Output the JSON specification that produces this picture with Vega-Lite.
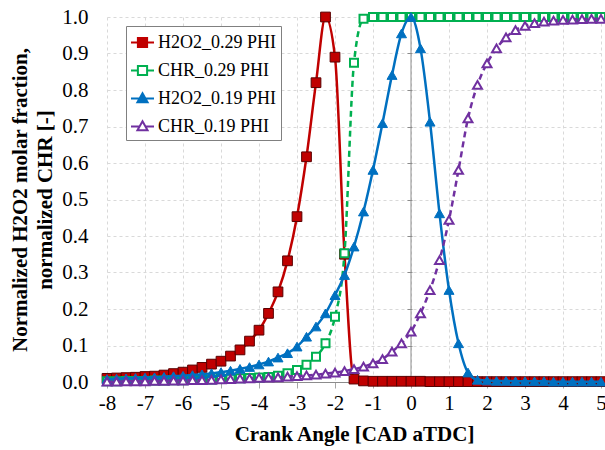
{
 "$schema": "https://vega.github.io/schema/vega-lite/v6.json",
 "width": 494, "height": 365,
 "autosize": "none",
 "padding": {"left": 107, "top": 17, "right": 4, "bottom": 68},
 "background": "white",
 "config": {
  "view": {"stroke": null},
  "font": "Liberation Serif",
  "axis": {"labelFont": "Liberation Serif", "labelFontSize": 21, "labelColor": "black", "labelOverlap": false, "labelFlush": false, "labelSeparation": 0,
           "titleFont": "Liberation Serif", "titleFontSize": 21, "titleFontWeight": "bold", "titleColor": "black",
           "gridColor": "#d9d9d9", "gridDash": [3, 3], "gridWidth": 1}
 },
 "layer": [
  {
   "data": {"values": [{}]},
   "mark": {"type": "rule", "color": "#8c8c8c", "strokeWidth": 1},
   "encoding": {
    "x": {"datum": 0, "type": "quantitative", "scale": {"domain": [-8, 5], "nice": false, "zero": false},
          "axis": {"values": [-8,-7,-6,-5,-4,-3,-2,-1,0,1,2,3,4,5], "labelExpr": "'' + datum.value", "labelPadding": 4, "tickSize": 6, "tickColor": "#a6a6a6", "domainColor": "#8c8c8c", "grid": true, "title": "Crank Angle [CAD aTDC]", "titlePadding": 10}},
    "y": {"datum": 0, "type": "quantitative", "scale": {"domain": [0, 1], "nice": false},
          "axis": {"orient": "left", "offset": -305, "labels": false, "domain": false, "grid": false, "ticks": true, "tickSize": 5, "tickColor": "#8c8c8c", "values": [0,0.1,0.2,0.3,0.4,0.5,0.6,0.7,0.8,0.9,1], "title": null}},
    "y2": {"datum": 1}
   }
  },
  {
   "data": {"values": [
{"x":-8,"y":0.010,"s":"H2O2_0.29 PHI"},{"x":-7.75,"y":0.011,"s":"H2O2_0.29 PHI"},{"x":-7.5,"y":0.012,"s":"H2O2_0.29 PHI"},{"x":-7.25,"y":0.013,"s":"H2O2_0.29 PHI"},{"x":-7,"y":0.015,"s":"H2O2_0.29 PHI"},{"x":-6.75,"y":0.016,"s":"H2O2_0.29 PHI"},{"x":-6.5,"y":0.019,"s":"H2O2_0.29 PHI"},{"x":-6.25,"y":0.023,"s":"H2O2_0.29 PHI"},{"x":-6,"y":0.027,"s":"H2O2_0.29 PHI"},{"x":-5.75,"y":0.033,"s":"H2O2_0.29 PHI"},{"x":-5.5,"y":0.040,"s":"H2O2_0.29 PHI"},{"x":-5.25,"y":0.049,"s":"H2O2_0.29 PHI"},{"x":-5,"y":0.057,"s":"H2O2_0.29 PHI"},{"x":-4.75,"y":0.071,"s":"H2O2_0.29 PHI"},{"x":-4.5,"y":0.088,"s":"H2O2_0.29 PHI"},{"x":-4.25,"y":0.112,"s":"H2O2_0.29 PHI"},{"x":-4,"y":0.142,"s":"H2O2_0.29 PHI"},{"x":-3.75,"y":0.188,"s":"H2O2_0.29 PHI"},{"x":-3.5,"y":0.247,"s":"H2O2_0.29 PHI"},{"x":-3.25,"y":0.332,"s":"H2O2_0.29 PHI"},{"x":-3,"y":0.453,"s":"H2O2_0.29 PHI"},{"x":-2.75,"y":0.617,"s":"H2O2_0.29 PHI"},{"x":-2.5,"y":0.82,"s":"H2O2_0.29 PHI"},{"x":-2.25,"y":1.0,"s":"H2O2_0.29 PHI"},{"x":-2,"y":0.89,"s":"H2O2_0.29 PHI"},{"x":-1.75,"y":0.35,"s":"H2O2_0.29 PHI"},{"x":-1.5,"y":0.008,"s":"H2O2_0.29 PHI"},{"x":-1.25,"y":0.003,"s":"H2O2_0.29 PHI"},{"x":-1,"y":0.002,"s":"H2O2_0.29 PHI"},{"x":-0.75,"y":0.002,"s":"H2O2_0.29 PHI"},{"x":-0.5,"y":0.002,"s":"H2O2_0.29 PHI"},{"x":-0.25,"y":0.002,"s":"H2O2_0.29 PHI"},{"x":0,"y":0.002,"s":"H2O2_0.29 PHI"},{"x":0.25,"y":0.002,"s":"H2O2_0.29 PHI"},{"x":0.5,"y":0.001,"s":"H2O2_0.29 PHI"},{"x":0.75,"y":0.001,"s":"H2O2_0.29 PHI"},{"x":1,"y":0.001,"s":"H2O2_0.29 PHI"},{"x":1.25,"y":0.001,"s":"H2O2_0.29 PHI"},{"x":1.5,"y":0.001,"s":"H2O2_0.29 PHI"},{"x":1.75,"y":0.001,"s":"H2O2_0.29 PHI"},{"x":2,"y":0.001,"s":"H2O2_0.29 PHI"},{"x":2.25,"y":0.001,"s":"H2O2_0.29 PHI"},{"x":2.5,"y":0.001,"s":"H2O2_0.29 PHI"},{"x":2.75,"y":0.001,"s":"H2O2_0.29 PHI"},{"x":3,"y":0.001,"s":"H2O2_0.29 PHI"},{"x":3.25,"y":0.001,"s":"H2O2_0.29 PHI"},{"x":3.5,"y":0.001,"s":"H2O2_0.29 PHI"},{"x":3.75,"y":0.001,"s":"H2O2_0.29 PHI"},{"x":4,"y":0.001,"s":"H2O2_0.29 PHI"},{"x":4.25,"y":0.001,"s":"H2O2_0.29 PHI"},{"x":4.5,"y":0.001,"s":"H2O2_0.29 PHI"},{"x":4.75,"y":0.001,"s":"H2O2_0.29 PHI"},{"x":5,"y":0.001,"s":"H2O2_0.29 PHI"},
{"x":-8,"y":0.002,"s":"CHR_0.29 PHI"},{"x":-7.75,"y":0.002,"s":"CHR_0.29 PHI"},{"x":-7.5,"y":0.003,"s":"CHR_0.29 PHI"},{"x":-7.25,"y":0.003,"s":"CHR_0.29 PHI"},{"x":-7,"y":0.003,"s":"CHR_0.29 PHI"},{"x":-6.75,"y":0.004,"s":"CHR_0.29 PHI"},{"x":-6.5,"y":0.004,"s":"CHR_0.29 PHI"},{"x":-6.25,"y":0.005,"s":"CHR_0.29 PHI"},{"x":-6,"y":0.005,"s":"CHR_0.29 PHI"},{"x":-5.75,"y":0.006,"s":"CHR_0.29 PHI"},{"x":-5.5,"y":0.006,"s":"CHR_0.29 PHI"},{"x":-5.25,"y":0.007,"s":"CHR_0.29 PHI"},{"x":-5,"y":0.008,"s":"CHR_0.29 PHI"},{"x":-4.75,"y":0.009,"s":"CHR_0.29 PHI"},{"x":-4.5,"y":0.010,"s":"CHR_0.29 PHI"},{"x":-4.25,"y":0.011,"s":"CHR_0.29 PHI"},{"x":-4,"y":0.012,"s":"CHR_0.29 PHI"},{"x":-3.75,"y":0.014,"s":"CHR_0.29 PHI"},{"x":-3.5,"y":0.017,"s":"CHR_0.29 PHI"},{"x":-3.25,"y":0.024,"s":"CHR_0.29 PHI"},{"x":-3,"y":0.033,"s":"CHR_0.29 PHI"},{"x":-2.75,"y":0.047,"s":"CHR_0.29 PHI"},{"x":-2.5,"y":0.069,"s":"CHR_0.29 PHI"},{"x":-2.25,"y":0.106,"s":"CHR_0.29 PHI"},{"x":-2,"y":0.179,"s":"CHR_0.29 PHI"},{"x":-1.75,"y":0.353,"s":"CHR_0.29 PHI"},{"x":-1.5,"y":0.875,"s":"CHR_0.29 PHI"},{"x":-1.25,"y":0.995,"s":"CHR_0.29 PHI"},{"x":-1,"y":1.0,"s":"CHR_0.29 PHI"},{"x":-0.75,"y":1.0,"s":"CHR_0.29 PHI"},{"x":-0.5,"y":1.0,"s":"CHR_0.29 PHI"},{"x":-0.25,"y":1.0,"s":"CHR_0.29 PHI"},{"x":0,"y":1.0,"s":"CHR_0.29 PHI"},{"x":0.25,"y":1.0,"s":"CHR_0.29 PHI"},{"x":0.5,"y":1.0,"s":"CHR_0.29 PHI"},{"x":0.75,"y":1.0,"s":"CHR_0.29 PHI"},{"x":1,"y":1.0,"s":"CHR_0.29 PHI"},{"x":1.25,"y":1.0,"s":"CHR_0.29 PHI"},{"x":1.5,"y":1.0,"s":"CHR_0.29 PHI"},{"x":1.75,"y":1.0,"s":"CHR_0.29 PHI"},{"x":2,"y":1.0,"s":"CHR_0.29 PHI"},{"x":2.25,"y":1.0,"s":"CHR_0.29 PHI"},{"x":2.5,"y":1.0,"s":"CHR_0.29 PHI"},{"x":2.75,"y":1.0,"s":"CHR_0.29 PHI"},{"x":3,"y":1.0,"s":"CHR_0.29 PHI"},{"x":3.25,"y":1.0,"s":"CHR_0.29 PHI"},{"x":3.5,"y":1.0,"s":"CHR_0.29 PHI"},{"x":3.75,"y":1.0,"s":"CHR_0.29 PHI"},{"x":4,"y":1.0,"s":"CHR_0.29 PHI"},{"x":4.25,"y":1.0,"s":"CHR_0.29 PHI"},{"x":4.5,"y":1.0,"s":"CHR_0.29 PHI"},{"x":4.75,"y":1.0,"s":"CHR_0.29 PHI"},{"x":5,"y":1.0,"s":"CHR_0.29 PHI"},
{"x":-8,"y":0.008,"s":"H2O2_0.19 PHI"},{"x":-7.75,"y":0.009,"s":"H2O2_0.19 PHI"},{"x":-7.5,"y":0.010,"s":"H2O2_0.19 PHI"},{"x":-7.25,"y":0.011,"s":"H2O2_0.19 PHI"},{"x":-7,"y":0.012,"s":"H2O2_0.19 PHI"},{"x":-6.75,"y":0.013,"s":"H2O2_0.19 PHI"},{"x":-6.5,"y":0.014,"s":"H2O2_0.19 PHI"},{"x":-6.25,"y":0.016,"s":"H2O2_0.19 PHI"},{"x":-6,"y":0.017,"s":"H2O2_0.19 PHI"},{"x":-5.75,"y":0.019,"s":"H2O2_0.19 PHI"},{"x":-5.5,"y":0.021,"s":"H2O2_0.19 PHI"},{"x":-5.25,"y":0.024,"s":"H2O2_0.19 PHI"},{"x":-5,"y":0.027,"s":"H2O2_0.19 PHI"},{"x":-4.75,"y":0.031,"s":"H2O2_0.19 PHI"},{"x":-4.5,"y":0.036,"s":"H2O2_0.19 PHI"},{"x":-4.25,"y":0.041,"s":"H2O2_0.19 PHI"},{"x":-4,"y":0.048,"s":"H2O2_0.19 PHI"},{"x":-3.75,"y":0.056,"s":"H2O2_0.19 PHI"},{"x":-3.5,"y":0.067,"s":"H2O2_0.19 PHI"},{"x":-3.25,"y":0.079,"s":"H2O2_0.19 PHI"},{"x":-3,"y":0.097,"s":"H2O2_0.19 PHI"},{"x":-2.75,"y":0.124,"s":"H2O2_0.19 PHI"},{"x":-2.5,"y":0.152,"s":"H2O2_0.19 PHI"},{"x":-2.25,"y":0.188,"s":"H2O2_0.19 PHI"},{"x":-2,"y":0.238,"s":"H2O2_0.19 PHI"},{"x":-1.75,"y":0.293,"s":"H2O2_0.19 PHI"},{"x":-1.5,"y":0.371,"s":"H2O2_0.19 PHI"},{"x":-1.25,"y":0.467,"s":"H2O2_0.19 PHI"},{"x":-1,"y":0.581,"s":"H2O2_0.19 PHI"},{"x":-0.75,"y":0.709,"s":"H2O2_0.19 PHI"},{"x":-0.5,"y":0.841,"s":"H2O2_0.19 PHI"},{"x":-0.25,"y":0.955,"s":"H2O2_0.19 PHI"},{"x":0,"y":1.0,"s":"H2O2_0.19 PHI"},{"x":0.25,"y":0.914,"s":"H2O2_0.19 PHI"},{"x":0.5,"y":0.713,"s":"H2O2_0.19 PHI"},{"x":0.75,"y":0.462,"s":"H2O2_0.19 PHI"},{"x":1,"y":0.252,"s":"H2O2_0.19 PHI"},{"x":1.25,"y":0.106,"s":"H2O2_0.19 PHI"},{"x":1.5,"y":0.026,"s":"H2O2_0.19 PHI"},{"x":1.75,"y":0.006,"s":"H2O2_0.19 PHI"},{"x":2,"y":0.004,"s":"H2O2_0.19 PHI"},{"x":2.25,"y":0.003,"s":"H2O2_0.19 PHI"},{"x":2.5,"y":0.003,"s":"H2O2_0.19 PHI"},{"x":2.75,"y":0.002,"s":"H2O2_0.19 PHI"},{"x":3,"y":0.002,"s":"H2O2_0.19 PHI"},{"x":3.25,"y":0.002,"s":"H2O2_0.19 PHI"},{"x":3.5,"y":0.002,"s":"H2O2_0.19 PHI"},{"x":3.75,"y":0.001,"s":"H2O2_0.19 PHI"},{"x":4,"y":0.001,"s":"H2O2_0.19 PHI"},{"x":4.25,"y":0.001,"s":"H2O2_0.19 PHI"},{"x":4.5,"y":0.001,"s":"H2O2_0.19 PHI"},{"x":4.75,"y":0.001,"s":"H2O2_0.19 PHI"},{"x":5,"y":0.001,"s":"H2O2_0.19 PHI"},
{"x":-8,"y":0.001,"s":"CHR_0.19 PHI"},{"x":-7.75,"y":0.001,"s":"CHR_0.19 PHI"},{"x":-7.5,"y":0.002,"s":"CHR_0.19 PHI"},{"x":-7.25,"y":0.002,"s":"CHR_0.19 PHI"},{"x":-7,"y":0.002,"s":"CHR_0.19 PHI"},{"x":-6.75,"y":0.003,"s":"CHR_0.19 PHI"},{"x":-6.5,"y":0.003,"s":"CHR_0.19 PHI"},{"x":-6.25,"y":0.004,"s":"CHR_0.19 PHI"},{"x":-6,"y":0.004,"s":"CHR_0.19 PHI"},{"x":-5.75,"y":0.005,"s":"CHR_0.19 PHI"},{"x":-5.5,"y":0.005,"s":"CHR_0.19 PHI"},{"x":-5.25,"y":0.006,"s":"CHR_0.19 PHI"},{"x":-5,"y":0.007,"s":"CHR_0.19 PHI"},{"x":-4.75,"y":0.008,"s":"CHR_0.19 PHI"},{"x":-4.5,"y":0.009,"s":"CHR_0.19 PHI"},{"x":-4.25,"y":0.010,"s":"CHR_0.19 PHI"},{"x":-4,"y":0.011,"s":"CHR_0.19 PHI"},{"x":-3.75,"y":0.012,"s":"CHR_0.19 PHI"},{"x":-3.5,"y":0.013,"s":"CHR_0.19 PHI"},{"x":-3.25,"y":0.015,"s":"CHR_0.19 PHI"},{"x":-3,"y":0.016,"s":"CHR_0.19 PHI"},{"x":-2.75,"y":0.018,"s":"CHR_0.19 PHI"},{"x":-2.5,"y":0.020,"s":"CHR_0.19 PHI"},{"x":-2.25,"y":0.023,"s":"CHR_0.19 PHI"},{"x":-2,"y":0.026,"s":"CHR_0.19 PHI"},{"x":-1.75,"y":0.030,"s":"CHR_0.19 PHI"},{"x":-1.5,"y":0.035,"s":"CHR_0.19 PHI"},{"x":-1.25,"y":0.042,"s":"CHR_0.19 PHI"},{"x":-1,"y":0.051,"s":"CHR_0.19 PHI"},{"x":-0.75,"y":0.063,"s":"CHR_0.19 PHI"},{"x":-0.5,"y":0.083,"s":"CHR_0.19 PHI"},{"x":-0.25,"y":0.106,"s":"CHR_0.19 PHI"},{"x":0,"y":0.138,"s":"CHR_0.19 PHI"},{"x":0.25,"y":0.188,"s":"CHR_0.19 PHI"},{"x":0.5,"y":0.252,"s":"CHR_0.19 PHI"},{"x":0.75,"y":0.334,"s":"CHR_0.19 PHI"},{"x":1,"y":0.444,"s":"CHR_0.19 PHI"},{"x":1.25,"y":0.581,"s":"CHR_0.19 PHI"},{"x":1.5,"y":0.722,"s":"CHR_0.19 PHI"},{"x":1.75,"y":0.814,"s":"CHR_0.19 PHI"},{"x":2,"y":0.873,"s":"CHR_0.19 PHI"},{"x":2.25,"y":0.914,"s":"CHR_0.19 PHI"},{"x":2.5,"y":0.944,"s":"CHR_0.19 PHI"},{"x":2.75,"y":0.964,"s":"CHR_0.19 PHI"},{"x":3,"y":0.976,"s":"CHR_0.19 PHI"},{"x":3.25,"y":0.983,"s":"CHR_0.19 PHI"},{"x":3.5,"y":0.987,"s":"CHR_0.19 PHI"},{"x":3.75,"y":0.990,"s":"CHR_0.19 PHI"},{"x":4,"y":0.992,"s":"CHR_0.19 PHI"},{"x":4.25,"y":0.993,"s":"CHR_0.19 PHI"},{"x":4.5,"y":0.994,"s":"CHR_0.19 PHI"},{"x":4.75,"y":0.995,"s":"CHR_0.19 PHI"},{"x":5,"y":0.995,"s":"CHR_0.19 PHI"}
   ]},
   "encoding": {
    "x": {"field": "x", "type": "quantitative", "scale": {"domain": [-8, 5], "nice": false, "zero": false},
          "axis": {"values": [-8,-7,-6,-5,-4,-3,-2,-1,0,1,2,3,4,5], "labelExpr": "'' + datum.value", "labelPadding": 4, "tickSize": 6, "tickColor": "#a6a6a6", "domainColor": "#8c8c8c", "grid": true, "title": "Crank Angle [CAD aTDC]", "titlePadding": 10}},
    "y": {"field": "y", "type": "quantitative", "scale": {"domain": [0, 1], "nice": false},
          "axis": {"orient": "left", "values": [0,0.1,0.2,0.3,0.4,0.5,0.6,0.7,0.8,0.9,1], "format": ".1f", "labelPadding": 19,
                   "domain": false, "ticks": false, "grid": true,
                   "title": ["Normalized H2O2 molar fraction,", "normalized CHR [-]"], "titlePadding": 6, "titleLineHeight": 25}}
   },
   "layer": [
    {
     "transform": [{"filter": {"field": "s", "equal": "H2O2_0.29 PHI"}}],
     "mark": {"type": "line", "strokeWidth": 2.5, "interpolate": "monotone"},
     "encoding": {
      "color": {"field": "s", "type": "nominal",
                "scale": {"domain": ["H2O2_0.29 PHI", "CHR_0.29 PHI", "H2O2_0.19 PHI", "CHR_0.19 PHI"], "range": ["#C00000", "#00B050", "#0070C0", "#7030A0"]},
                "legend": {"title": null, "orient": "none", "legendX": 19, "legendY": 9, "fillColor": "white", "strokeColor": "#808080", "padding": 4,
                           "labelFont": "Liberation Serif", "labelFontSize": 18, "labelColor": "black", "symbolSize": 529, "rowPadding": 6, "labelOffset": 3, "symbolStrokeWidth": 2,
                           "encode": {"symbols": {"update": {
                             "shape": {"signal": "indexof(datum.value, '0.29') >= 0 ? 'M-1,0H-0.4M0.4,0H1M-0.4,-0.4H0.4V0.4H-0.4Z' : 'M-1,0H-0.26M0.26,0H1M0,-0.46L0.44,0.32H-0.44Z'"},
                             "fill": {"signal": "indexof(datum.value, 'CHR') >= 0 ? 'white' : scale('color', datum.value)"},
                             "stroke": {"signal": "scale('color', datum.value)"},
                             "strokeDash": {"value": []},
                             "strokeWidth": {"value": 2}}}}}}
     }
    },
    {
     "transform": [{"filter": {"field": "s", "equal": "H2O2_0.29 PHI"}}],
     "mark": {"type": "point", "shape": "square", "filled": true, "fill": "#C00000", "stroke": "#5a0000", "strokeWidth": 1, "size": 95, "opacity": 1}
    },
    {
     "transform": [{"filter": {"field": "s", "equal": "CHR_0.29 PHI"}}],
     "mark": {"type": "line", "strokeWidth": 2.5, "strokeDash": [6, 4], "interpolate": "monotone"},
     "encoding": {"color": {"field": "s", "type": "nominal"}}
    },
    {
     "transform": [{"filter": {"field": "s", "equal": "CHR_0.29 PHI"}}],
     "mark": {"type": "point", "shape": "square", "filled": true, "fill": "white", "stroke": "#00B050", "strokeWidth": 2, "size": 64, "opacity": 1}
    },
    {
     "transform": [{"filter": {"field": "s", "equal": "H2O2_0.19 PHI"}}],
     "mark": {"type": "line", "strokeWidth": 2.5, "interpolate": "monotone"},
     "encoding": {"color": {"field": "s", "type": "nominal"}}
    },
    {
     "transform": [{"filter": {"field": "s", "equal": "H2O2_0.19 PHI"}}],
     "mark": {"type": "point", "shape": "triangle-up", "filled": true, "fill": "#0070C0", "stroke": "#0070C0", "strokeWidth": 1, "size": 100, "opacity": 1}
    },
    {
     "transform": [{"filter": {"field": "s", "equal": "CHR_0.19 PHI"}}],
     "mark": {"type": "line", "strokeWidth": 2.5, "strokeDash": [6, 4], "interpolate": "monotone"},
     "encoding": {"color": {"field": "s", "type": "nominal"}}
    },
    {
     "transform": [{"filter": {"field": "s", "equal": "CHR_0.19 PHI"}}],
     "mark": {"type": "point", "shape": "triangle-up", "filled": true, "fill": "white", "stroke": "#7030A0", "strokeWidth": 2, "size": 80, "opacity": 1}
    }
   ]
  }
 ],
 "resolve": {"scale": {"y": "independent"}, "axis": {"y": "independent"}}
}
